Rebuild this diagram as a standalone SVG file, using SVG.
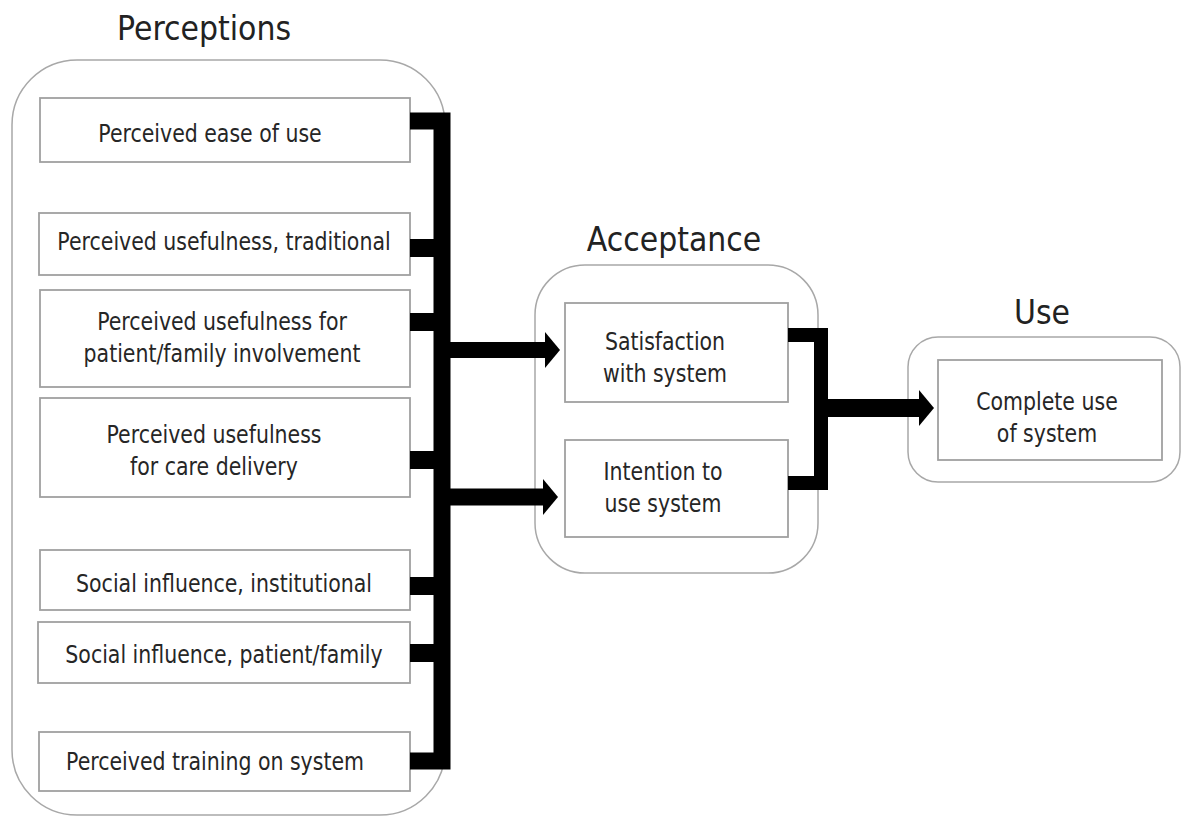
<svg xmlns="http://www.w3.org/2000/svg" width="1182" height="818" viewBox="0 0 1182 818">
<style>
.cont{fill:#fff;stroke:#a8a8a8;stroke-width:1.5}
.box{fill:#fff;stroke:#a0a0a0;stroke-width:1.8}
.t{font-family:"DejaVu Sans",Verdana,sans-serif;font-size:20.5px;fill:#262626;text-anchor:middle}
.title{font-family:"DejaVu Sans",Verdana,sans-serif;font-size:30px;fill:#222;text-anchor:middle}
.bus{fill:none;stroke:#000;stroke-linejoin:miter}
</style>
<defs>
<marker id="ah" markerUnits="userSpaceOnUse" markerWidth="16" markerHeight="36" viewBox="0 0 16 36" refX="0" refY="18" orient="auto">
<path d="M0,0 L15,18 L0,36 Z" fill="#000"/>
</marker>
</defs>
<rect width="1182" height="818" fill="#fff"/>

<g id="perceptions">
<rect class="cont" x="12" y="60" width="433" height="755" rx="65"/>
<text class="title" transform="translate(204,40) scale(1,1.15)">Perceptions</text>
</g>
<g id="acceptance">
<rect class="cont" x="535" y="265" width="283" height="308" rx="50"/>
<text class="title" transform="translate(674,251) scale(1,1.15)">Acceptance</text>
</g>
<g id="use">
<rect class="cont" x="908" y="337" width="272" height="145" rx="30"/>
<text class="title" transform="translate(1042,324) scale(1,1.15)">Use</text>
</g>

<g id="n1"><rect class="box" x="40" y="98" width="370" height="64"/>
<text class="t" transform="translate(210,142) scale(1,1.2)">Perceived ease of use</text></g>
<g id="n2"><rect class="box" x="39" y="213" width="371" height="62"/>
<text class="t" transform="translate(224,250) scale(1,1.2)">Perceived usefulness, traditional</text></g>
<g id="n3"><rect class="box" x="40" y="290" width="370" height="97"/>
<text class="t" transform="translate(222,330) scale(1,1.2)"><tspan x="0">Perceived usefulness for</tspan><tspan x="0" dy="26.7">patient/family involvement</tspan></text></g>
<g id="n4"><rect class="box" x="40" y="398" width="370" height="99"/>
<text class="t" transform="translate(214,443) scale(1,1.2)"><tspan x="0">Perceived usefulness</tspan><tspan x="0" dy="26.7">for care delivery</tspan></text></g>
<g id="n5"><rect class="box" x="40" y="550" width="370" height="60"/>
<text class="t" transform="translate(224,592) scale(1,1.2)">Social influence, institutional</text></g>
<g id="n6"><rect class="box" x="38" y="622" width="372" height="61"/>
<text class="t" transform="translate(224,663) scale(1,1.2)">Social influence, patient/family</text></g>
<g id="n7"><rect class="box" x="39" y="732" width="371" height="59"/>
<text class="t" transform="translate(215,770) scale(1,1.2)">Perceived training on system</text></g>

<g id="n8"><rect class="box" x="565" y="303" width="223" height="99"/>
<text class="t" transform="translate(665,350) scale(1,1.2)"><tspan x="0">Satisfaction</tspan><tspan x="0" dy="26.7">with system</tspan></text></g>
<g id="n9"><rect class="box" x="565" y="440" width="223" height="97"/>
<text class="t" transform="translate(663,480) scale(1,1.2)"><tspan x="0">Intention to</tspan><tspan x="0" dy="26.7">use system</tspan></text></g>
<g id="n10"><rect class="box" x="938" y="360" width="224" height="100"/>
<text class="t" transform="translate(1047,410) scale(1,1.2)"><tspan x="0">Complete use</tspan><tspan x="0" dy="26.7">of system</tspan></text></g>

<g id="connectors">
<path class="bus" stroke-width="17" d="M410,121 H442 V761 H410"/>
<path class="bus" stroke-width="18" d="M410,248 H442 M410,322 H442 M410,460 H442 M410,586 H442 M410,653 H442"/>
<path class="bus" stroke-width="16" d="M442,350 H545" marker-end="url(#ah)"/>
<path class="bus" stroke-width="17" d="M442,497 H543" marker-end="url(#ah)"/>
<path class="bus" stroke-width="14" d="M788,335 H821 V483 H788"/>
<path class="bus" stroke-width="18" d="M821,408 H919" marker-end="url(#ah)"/>
</g>
</svg>
